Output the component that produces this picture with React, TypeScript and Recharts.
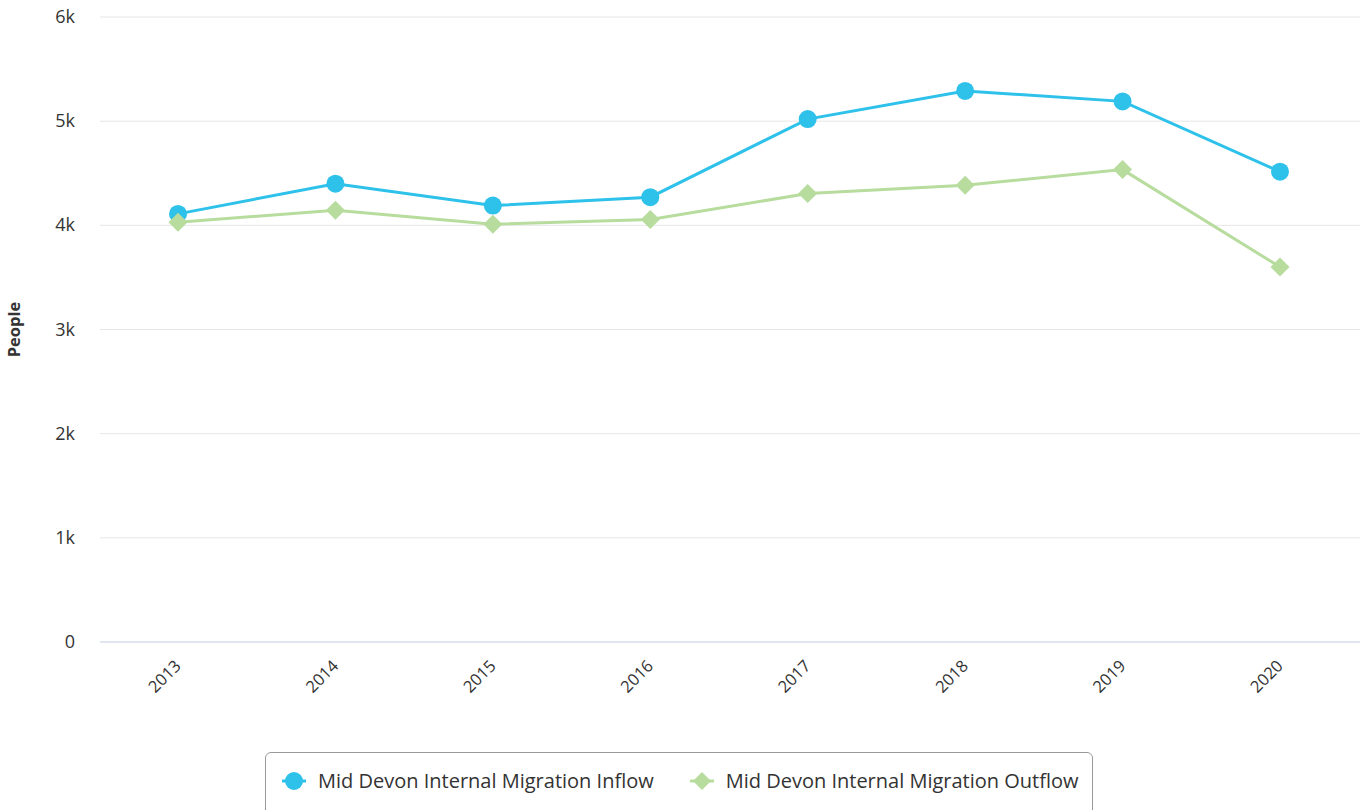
import React from "react";
import { LineChart, Line, XAxis, YAxis, CartesianGrid } from "recharts";

const years = ["2013", "2014", "2015", "2016", "2017", "2018", "2019", "2020"];
const inflow = [4110, 4400, 4190, 4270, 5020, 5290, 5190, 4515];
const outflow = [4030, 4145, 4010, 4055, 4305, 4385, 4535, 3600];
const yTicks = [0, 1000, 2000, 3000, 4000, 5000, 6000];
const seriesNames = [
  "Mid Devon Internal Migration Inflow",
  "Mid Devon Internal Migration Outflow",
];

const INFLOW = "#2ec1ea";
const OUTFLOW = "#b7dc9e";
const FONT = "'Open Sans', sans-serif";

const data = years.map((year, i) => ({ year, inflow: inflow[i], outflow: outflow[i] }));

const fmt = (v: number) => (v === 0 ? "0" : `${v / 1000}k`);

function YTick({ x, y, payload }: any) {
  return (
    <text x={x - 17} y={y} dy={6} textAnchor="end" fill="#333" fontSize={18} fontFamily={FONT}>
      {fmt(payload.value)}
    </text>
  );
}

function XTick({ x, y, payload }: any) {
  const ax = x + 4;
  const ay = y + 17;
  return (
    <text
      x={ax}
      y={ay}
      textAnchor="end"
      fill="#333"
      fontSize={16.5}
      fontFamily={FONT}
      transform={`rotate(-45 ${ax} ${ay})`}
    >
      {payload.value}
    </text>
  );
}

function Diamond({ cx, cy }: any) {
  if (cx == null || cy == null) return null;
  const r = 9.5;
  return <path d={`M${cx} ${cy - r}L${cx + r} ${cy}L${cx} ${cy + r}L${cx - r} ${cy}Z`} fill={OUTFLOW} />;
}

function LegendIcon({ kind }: { kind: "circle" | "diamond" }) {
  const color = kind === "circle" ? INFLOW : OUTFLOW;
  return (
    <svg width={24} height={20} style={{ marginRight: 12, flexShrink: 0 }}>
      <line x1={0} y1={10} x2={24} y2={10} stroke={color} strokeWidth={3} />
      {kind === "circle" ? (
        <circle cx={12} cy={10} r={9} fill={color} />
      ) : (
        <path d="M12 1L21 10L12 19L3 10Z" fill={color} />
      )}
    </svg>
  );
}

export default function App() {
  return (
    <div style={{ position: "absolute", left: 0, top: 0, width: 1366, height: 810, background: "#fff", overflow: "hidden" }}>
      <LineChart width={1366} height={810} data={data} margin={{ top: 17, right: 6, bottom: 138, left: 0 }}>
        <CartesianGrid vertical={false} stroke="#e6e6e6" />
        <XAxis
          dataKey="year"
          padding={{ left: 78, right: 80 }}
          axisLine={{ stroke: "#ccd6eb" }}
          tickLine={false}
          tick={<XTick />}
          interval={0}
        />
        <YAxis
          width={100}
          domain={[0, 6000]}
          ticks={yTicks}
          axisLine={false}
          tickLine={false}
          tick={<YTick />}
          label={{
            value: "People",
            angle: -90,
            position: "insideLeft",
            dx: 9,
            style: { fontFamily: FONT, fontWeight: 700, fontSize: 16.5, fill: "#333", textAnchor: "middle" },
          }}
        />
        <Line
          dataKey="inflow"
          stroke={INFLOW}
          strokeWidth={3}
          dot={{ r: 9, fill: INFLOW, stroke: "none" }}
          activeDot={false}
          isAnimationActive={false}
        />
        <Line
          dataKey="outflow"
          stroke={OUTFLOW}
          strokeWidth={3}
          dot={<Diamond />}
          activeDot={false}
          isAnimationActive={false}
        />
      </LineChart>
      <div
        style={{
          position: "absolute",
          left: 265,
          top: 752,
          width: 828,
          height: 70,
          boxSizing: "border-box",
          border: "1px solid #999",
          borderRadius: 6,
          display: "flex",
          alignItems: "flex-start",
          paddingTop: 14,
          paddingLeft: 16,
          fontFamily: FONT,
          fontSize: 20,
          color: "#333",
          whiteSpace: "nowrap",
        }}
      >
        {seriesNames.map((name, i) => (
          <div key={name} style={{ display: "flex", alignItems: "center", marginRight: 36, flexShrink: 0 }}>
            <LegendIcon kind={i === 0 ? "circle" : "diamond"} />
            <span>{name}</span>
          </div>
        ))}
      </div>
    </div>
  );
}
